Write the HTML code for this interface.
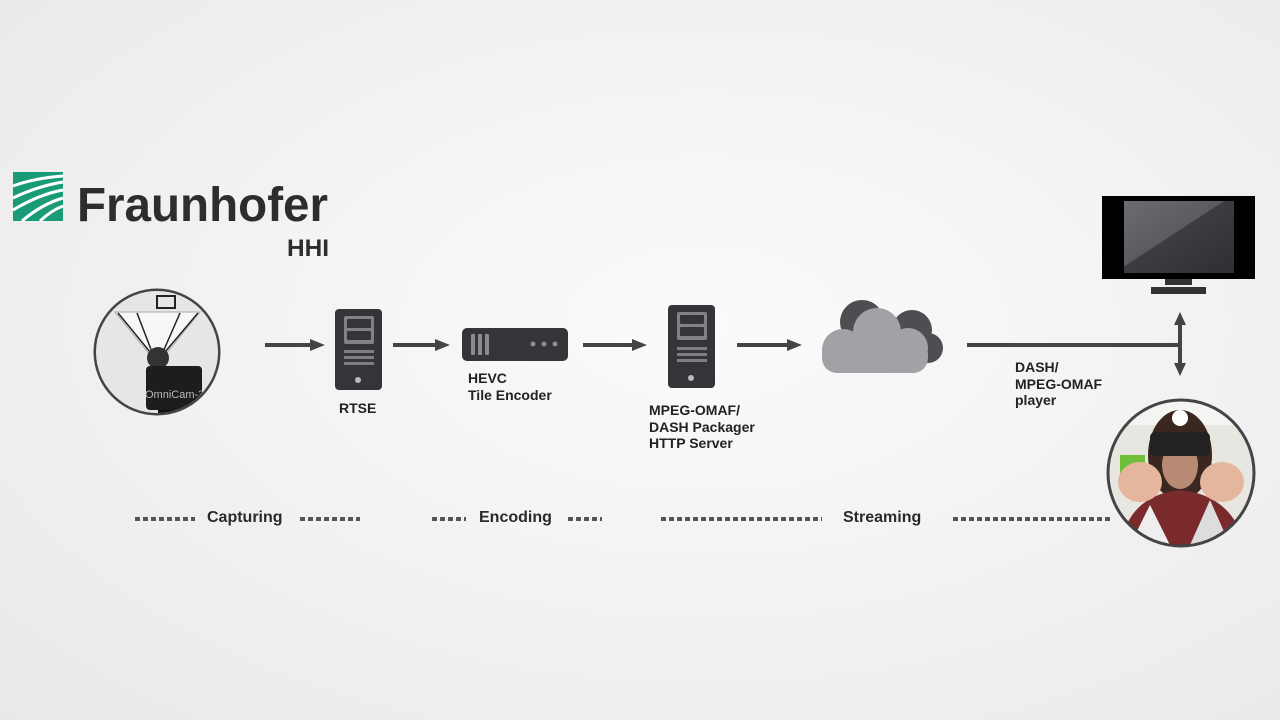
<!DOCTYPE html>
<html><head><meta charset="utf-8"><style>
body{margin:0;width:1280px;height:720px;overflow:hidden;background:radial-gradient(ellipse at 55% 45%,#fbfbfb 0%,#f1f1f2 55%,#e9e9ea 100%);font-family:"Liberation Sans",sans-serif;position:relative}
.t{position:absolute;font-weight:bold;color:#222;font-size:14px;line-height:16.5px}
.d{position:absolute;height:4px;background:repeating-linear-gradient(90deg,#555 0 5px,transparent 5px 8px)}
.s{position:absolute;font-size:16px;color:#2a2a2a;font-weight:bold}
</style></head><body>
<svg width="1280" height="720" style="position:absolute;left:0;top:0">
<defs>
<clipPath id="c1"><circle cx="157" cy="352" r="61"/></clipPath>
<clipPath id="c2"><circle cx="1181" cy="473" r="73"/></clipPath>
<linearGradient id="sc" x1="0" y1="0" x2="1" y2="1"><stop offset="0" stop-color="#6a6c70"/><stop offset="0.45" stop-color="#5a5c60"/><stop offset="0.46" stop-color="#3b3d40"/><stop offset="1" stop-color="#2d2f32"/></linearGradient>
</defs>
<rect x="13" y="172" width="50" height="49" fill="#1a9b78"/>
<g stroke="#fff" stroke-width="3" fill="none">
<path d="M13 186 Q35 178 63 176"/><path d="M13 198 Q38 186 63 182"/><path d="M13 210 Q40 194 63 190"/><path d="M22 221 Q42 204 63 198"/><path d="M40 221 Q52 210 63 206"/>
</g>
<text x="77" y="221" font-family="Liberation Sans" font-weight="bold" font-size="48" fill="#2d2d2f" textLength="251" lengthAdjust="spacingAndGlyphs">Fraunhofer</text>
<text x="287" y="256" font-family="Liberation Sans" font-weight="bold" font-size="24" fill="#2d2d2f" textLength="42" lengthAdjust="spacingAndGlyphs">HHI</text>
<circle cx="157" cy="352" r="62" fill="#e4e4e4" stroke="#444" stroke-width="3"/>
<g clip-path="url(#c1)">
<rect x="95" y="290" width="124" height="140" fill="#e6e6e6"/>
<rect x="157" y="296" width="18" height="12" fill="none" stroke="#222" stroke-width="2"/>
<polygon points="115,312 200,312 165,355 150,355" fill="#f7f7f7" stroke="#aaa"/>
<g stroke="#222" stroke-width="1.5"><line x1="118" y1="313" x2="150" y2="352"/><line x1="198" y1="313" x2="165" y2="352"/><line x1="137" y1="313" x2="152" y2="352"/><line x1="180" y1="313" x2="163" y2="352"/></g>
<circle cx="158" cy="358" r="11" fill="#333"/>
<rect x="146" y="366" width="56" height="44" rx="4" fill="#1d1d1f"/>
<text x="145" y="398" font-size="11" fill="#bbb" font-family="Liberation Sans">OmniCam-360</text>
<rect x="158" y="410" width="22" height="30" fill="#111"/>
</g>
<g fill="#444" stroke="#444" stroke-width="4">
<line x1="265" y1="345" x2="312" y2="345"/><polygon points="310,339 325,345 310,351" stroke="none"/>
<line x1="393" y1="345" x2="437" y2="345"/><polygon points="435,339 450,345 435,351" stroke="none"/>
<line x1="583" y1="345" x2="634" y2="345"/><polygon points="632,339 647,345 632,351" stroke="none"/>
<line x1="737" y1="345" x2="789" y2="345"/><polygon points="787,339 802,345 787,351" stroke="none"/>
<line x1="967" y1="345" x2="1180" y2="345"/><line x1="1180" y1="322" x2="1180" y2="366"/>
<polygon points="1174,325 1180,312 1186,325" stroke="none"/><polygon points="1174,363 1180,376 1186,363" stroke="none"/>
</g>
<rect x="335" y="309" width="47" height="81" rx="4" fill="#333538"/>
<rect x="344" y="316" width="30" height="28" rx="2" fill="#808285"/>
<rect x="347" y="319" width="24" height="9" rx="1" fill="#333538"/><rect x="347" y="331" width="24" height="9" rx="1" fill="#333538"/>
<g fill="#7c7e81"><rect x="344" y="350" width="30" height="3"/><rect x="344" y="356" width="30" height="3"/><rect x="344" y="362" width="30" height="3"/></g>
<circle cx="358" cy="380" r="3" fill="#bbb"/>
<rect x="462" y="328" width="106" height="33" rx="5" fill="#333538"/>
<g fill="#8a8c8f"><rect x="471" y="334" width="4" height="21" rx="1"/><rect x="478" y="334" width="4" height="21" rx="1"/><rect x="485" y="334" width="4" height="21" rx="1"/></g>
<g fill="#8a8c8f"><circle cx="533" cy="344" r="2.5"/><circle cx="544" cy="344" r="2.5"/><circle cx="555" cy="344" r="2.5"/></g>
<rect x="668" y="305" width="47" height="83" rx="4" fill="#333538"/>
<rect x="677" y="312" width="30" height="28" rx="2" fill="#808285"/>
<rect x="680" y="315" width="24" height="9" rx="1" fill="#333538"/><rect x="680" y="327" width="24" height="9" rx="1" fill="#333538"/>
<g fill="#7c7e81"><rect x="677" y="347" width="30" height="3"/><rect x="677" y="353" width="30" height="3"/><rect x="677" y="359" width="30" height="3"/></g>
<circle cx="691" cy="378" r="3" fill="#bbb"/>
<g fill="#4c4e52"><circle cx="862" cy="322" r="22"/><circle cx="912" cy="330" r="20"/><circle cx="928" cy="348" r="15"/><rect x="870" y="330" width="60" height="34" rx="12"/></g>
<g fill="#a0a2a5"><circle cx="843" cy="350" r="21"/><circle cx="877" cy="332" r="24"/><circle cx="908" cy="348" r="20"/><rect x="822" y="340" width="106" height="33" rx="15"/></g>
<rect x="1102" y="196" width="153" height="83" fill="#000"/>
<rect x="1124" y="201" width="110" height="72" fill="url(#sc)"/>
<rect x="1165" y="279" width="27" height="6" fill="#333"/>
<rect x="1151" y="287" width="55" height="7" fill="#333"/>
<g clip-path="url(#c2)">
<rect x="1100" y="395" width="165" height="160" fill="#e8e6e1"/>
<rect x="1100" y="395" width="165" height="30" fill="#f4f4f2"/>
<rect x="1120" y="455" width="25" height="30" fill="#6fbf3d"/>
<ellipse cx="1180" cy="455" rx="32" ry="45" fill="#3a2820"/>
<ellipse cx="1180" cy="465" rx="18" ry="24" fill="#b98a73"/>
<rect x="1150" y="432" width="60" height="24" rx="5" fill="#222"/>
<circle cx="1180" cy="418" r="8" fill="#fff"/>
<path d="M1120 545 Q1130 495 1180 490 Q1232 495 1245 545Z" fill="#7a2a2a"/>
<path d="M1130 545 L1150 505 L1170 545Z" fill="#eee"/><path d="M1190 545 L1210 500 L1230 545Z" fill="#ddd"/>
<ellipse cx="1140" cy="482" rx="22" ry="20" fill="#e3b69d"/>
<ellipse cx="1222" cy="482" rx="22" ry="20" fill="#e3b69d"/>
</g>
<circle cx="1181" cy="473" r="73" fill="none" stroke="#444" stroke-width="3"/>
</svg>
<div class="t" style="left:339px;top:400px">RTSE</div>
<div class="t" style="left:468px;top:370px">HEVC<br>Tile Encoder</div>
<div class="t" style="left:649px;top:402px">MPEG-OMAF/<br>DASH Packager<br>HTTP Server</div>
<div class="t" style="left:1015px;top:359px">DASH/<br>MPEG-OMAF<br>player</div>
<div class="d" style="left:135px;top:517px;width:60px"></div>
<div class="d" style="left:300px;top:517px;width:60px"></div>
<div class="d" style="left:432px;top:517px;width:34px"></div>
<div class="d" style="left:568px;top:517px;width:34px"></div>
<div class="d" style="left:661px;top:517px;width:161px"></div>
<div class="d" style="left:953px;top:517px;width:157px"></div>
<div class="s" style="left:207px;top:509px">Capturing</div>
<div class="s" style="left:479px;top:509px">Encoding</div>
<div class="s" style="left:843px;top:509px">Streaming</div>
</body></html>
